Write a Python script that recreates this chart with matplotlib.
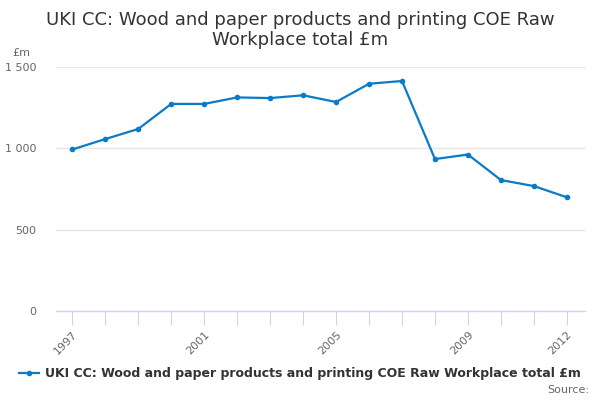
import matplotlib
matplotlib.use("Agg")
import matplotlib.pyplot as plt
from matplotlib.lines import Line2D
from matplotlib.ticker import FuncFormatter

years = list(range(1997, 2013))
values = [993, 1057, 1119, 1273, 1273, 1313, 1309, 1326, 1285, 1397, 1414, 934, 962, 805, 768, 699]
label_years = [1997, 2001, 2005, 2009, 2012]
yticks = [0, 500, 1000, 1500]
series_name = "UKI CC: Wood and paper products and printing COE Raw Workplace total £m"
title = "UKI CC: Wood and paper products and printing COE Raw\nWorkplace total £m"

line_color = "#0a7bc4"
fig = plt.figure(figsize=(6, 4), dpi=100)
ax = fig.add_axes([0.093, 0.2225, 0.882, 0.61])

ax.plot(years, values, color=line_color, lw=1.6, marker="o", ms=3, zorder=3)

ax.set_xlim(1996.5, 2012.55)
ax.set_ylim(0, 1500)
ax.set_yticks(yticks)
ax.yaxis.set_major_formatter(FuncFormatter(lambda v, p: f"{int(v):,}".replace(",", " ")))
ax.grid(axis="y", color="#e6e6e6", lw=1)
ax.set_axisbelow(True)
for s in ["top", "right", "left"]:
    ax.spines[s].set_visible(False)
ax.spines["bottom"].set_color("#ccd6eb")
ax.spines["bottom"].set_linewidth(1)
ax.tick_params(axis="y", length=0, labelsize=8, labelcolor="#666666", pad=14)

ax.set_xticks(years)
ax.set_xticklabels([str(y) if y in label_years else "" for y in years],
                   rotation=45, ha="right", va="top", rotation_mode="anchor")
ax.tick_params(axis="x", length=10, color="#ccd6eb", labelsize=8, labelcolor="#666666", pad=3)

fig.text(0.5, 0.925, title, ha="center", va="center", fontsize=13, color="#333333", linespacing=1.15)
fig.text(0.02, 0.868, "£m", ha="left", va="center", fontsize=8, color="#666666")

handle = Line2D([], [], color=line_color, lw=1.6, marker="o", ms=3)
leg = fig.legend([handle], [series_name], loc="center", bbox_to_anchor=(0.5, 0.065),
                 frameon=False, prop={"weight": "bold", "size": 9}, labelcolor="#333333",
                 handlelength=1.6, handletextpad=0.5)
fig.text(0.982, 0.025, "Source:", ha="right", va="center", fontsize=8, color="#666666")

fig.savefig("out.png", dpi=100)
